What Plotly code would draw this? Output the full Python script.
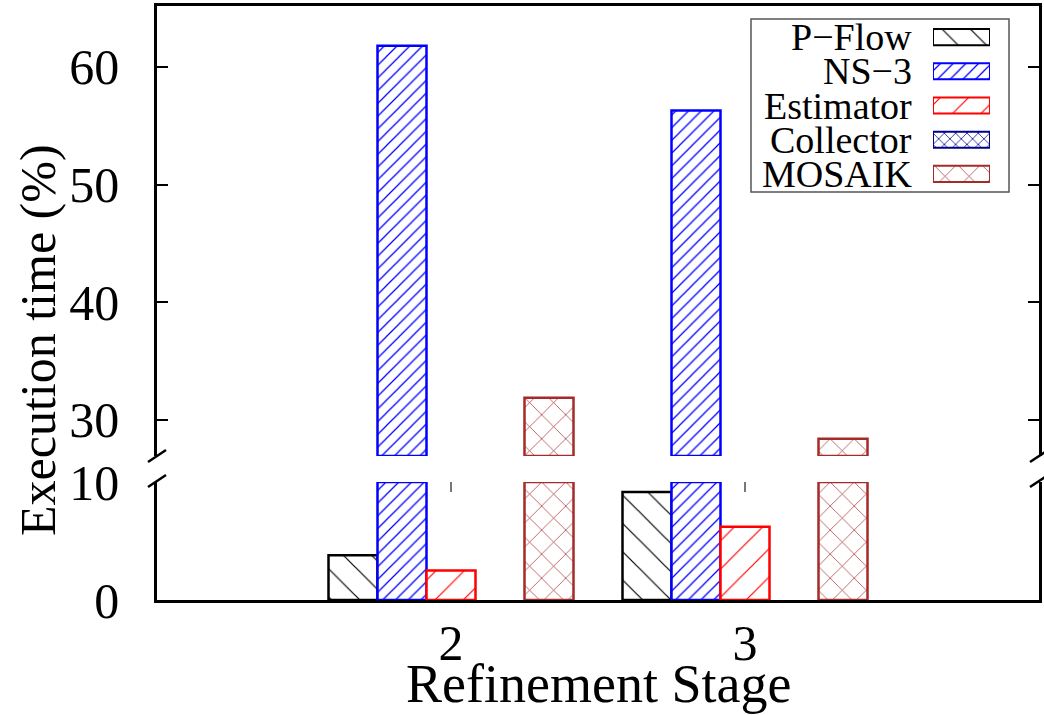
import plotly.graph_objects as go

# ---- data ----
stages = [2, 3]
stage_labels = ["2", "3"]
series = ["P\u2212Flow", "NS\u22123", "Estimator", "Collector", "MOSAIK"]
pflow = [3.8, 9.15]
ns3 = [61.8, 56.3]
estimator = [2.5, 6.2]
collector = [0.0, 0.0]
mosaik = [31.9, 28.4]
values = [pflow, ns3, estimator, collector, mosaik]

lower_ticks = [0, 10]
upper_ticks = [30, 40, 50, 60]

# ---- styles ----
colors = ["#000000", "#0000ff", "#ff0000", "#00008b", "#a52a2a"]
shapes_pat = ["\\", "/", "/", "x", "x"]
pat_size = [20, 9, 20, 8, 17]
pat_sol = [0.06, 0.14, 0.06, 0.18, 0.08]

LOWER = (0, 10)
UPPER = (26.94, 65.18)
FONT = "Liberation Serif"

W, H = 1044, 715
L, R, T, B = 157, 5, 6, 115
PW, PH = W - L - R, H - T - B


def px(xp):
    return (xp - L) / PW


def py(yp):
    return (H - B - yp) / PH


lower_dom = [0, py(482)]
upper_dom = [py(456), 1]

fig = go.Figure()

for i, name in enumerate(series):
    pat = dict(shape=shapes_pat[i], fgcolor=colors[i], bgcolor="white",
               size=pat_size[i], solidity=pat_sol[i], fillmode="replace")
    vals = values[i]
    lw = [2.5 if v > 0 else 0 for v in vals]
    # lower panel (clipped at panel top)
    fig.add_trace(go.Bar(x=stages, y=[min(v, LOWER[1]) for v in vals], name=name,
                         marker=dict(color="white", pattern=pat,
                                     line=dict(color=colors[i], width=lw)),
                         xaxis="x", yaxis="y", showlegend=False))
    # upper panel
    fig.add_trace(go.Bar(x=stages,
                         y=[(v - UPPER[0]) if v > UPPER[0] else None for v in vals],
                         base=UPPER[0], name=name,
                         marker=dict(color="white", pattern=pat,
                                     line=dict(color=colors[i], width=2.5)),
                         xaxis="x2", yaxis="y2", showlegend=False))
    # legend key
    fig.add_trace(go.Bar(x=[1], y=[i], base=0, orientation="h", width=0.47,
                         offset=-0.235, marker=dict(color="white", pattern=pat,
                         line=dict(color=colors[i], width=2)),
                         xaxis="x3", yaxis="y3", showlegend=False, hoverinfo="skip"))

axis_common = dict(showgrid=False, zeroline=False, linecolor="black", linewidth=2.5,
                   automargin=False,
                   tickfont=dict(family=FONT, size=50, color="black"))

fig.update_layout(
    template="none",
    width=W, height=H,
    margin=dict(l=L, r=R, t=T, b=B, autoexpand=False),
    plot_bgcolor="white", paper_bgcolor="white",
    barmode="group", bargap=1 / 6, bargroupgap=0,
    font=dict(family=FONT, color="black"),
    xaxis=dict(axis_common, range=[1, 4], tickvals=stages, ticktext=stage_labels,
               showline=True, ticks="", anchor="y", ticklabelstandoff=-3),
    yaxis=dict(axis_common, domain=lower_dom, range=list(LOWER), tickvals=lower_ticks,
               showline=True, mirror="ticks", ticks="inside", ticklen=11, tickwidth=1.5,
               tickcolor="black", ticklabelstandoff=25),
    xaxis2=dict(axis_common, range=[1, 4], anchor="y2", side="top", showline=True,
                ticks="", showticklabels=False, matches="x"),
    yaxis2=dict(axis_common, domain=upper_dom, range=list(UPPER), tickvals=upper_ticks,
                showline=True, mirror="ticks", ticks="inside", ticklen=11, tickwidth=1.5,
                tickcolor="black", anchor="x2", ticklabelstandoff=25),
    xaxis3=dict(domain=[px(933), px(990)], range=[0, 1], visible=False, anchor="y3",
                fixedrange=True, automargin=False),
    yaxis3=dict(domain=[py(191), py(20)], range=[4.5, -0.5], visible=False, anchor="x3",
                fixedrange=True, automargin=False),
)

shapes = []
# legend border
shapes.append(dict(type="rect", xref="paper", yref="paper", x0=px(751), x1=px(1009),
                   y0=py(192), y1=py(19), line=dict(color="#555555", width=1.5),
                   fillcolor="rgba(0,0,0,0)"))
# break marks
for xc in (157, 1039):
    for yc in (456, 481):
        shapes.append(dict(type="line", xref="paper", yref="paper",
                           x0=px(xc - 9), y0=py(yc + 6), x1=px(xc + 9), y1=py(yc - 6),
                           line=dict(color="black", width=2.5)))
# small inner ticks at the top of the lower panel
for s in stages:
    shapes.append(dict(type="line", xref="x", yref="paper", x0=s, x1=s,
                       y0=py(482), y1=py(492), line=dict(color="#777777", width=2)))
fig.update_layout(shapes=shapes)

ann = []
for i, name in enumerate(series):
    ann.append(dict(text=name, xref="paper", x=px(914), xanchor="right",
                    yref="y3", y=i, yanchor="middle", showarrow=False,
                    font=dict(family=FONT, size=38, color="black")))
ann.append(dict(text="Execution time (%)", xref="paper", x=px(38), xanchor="center",
                yref="paper", y=py(340), yanchor="middle", textangle=-90,
                showarrow=False, font=dict(family=FONT, size=50, color="black")))
ann.append(dict(text="Refinement Stage", xref="paper", x=px(598), xanchor="center",
                yref="paper", y=py(684), yanchor="middle", showarrow=False,
                font=dict(family=FONT, size=54, color="black")))
fig.update_layout(annotations=ann)

fig.write_html("out.html", config={"displayModeBar": False},
               post_script="document.body.style.margin='0px';"
                           "document.body.style.padding='0px';")
